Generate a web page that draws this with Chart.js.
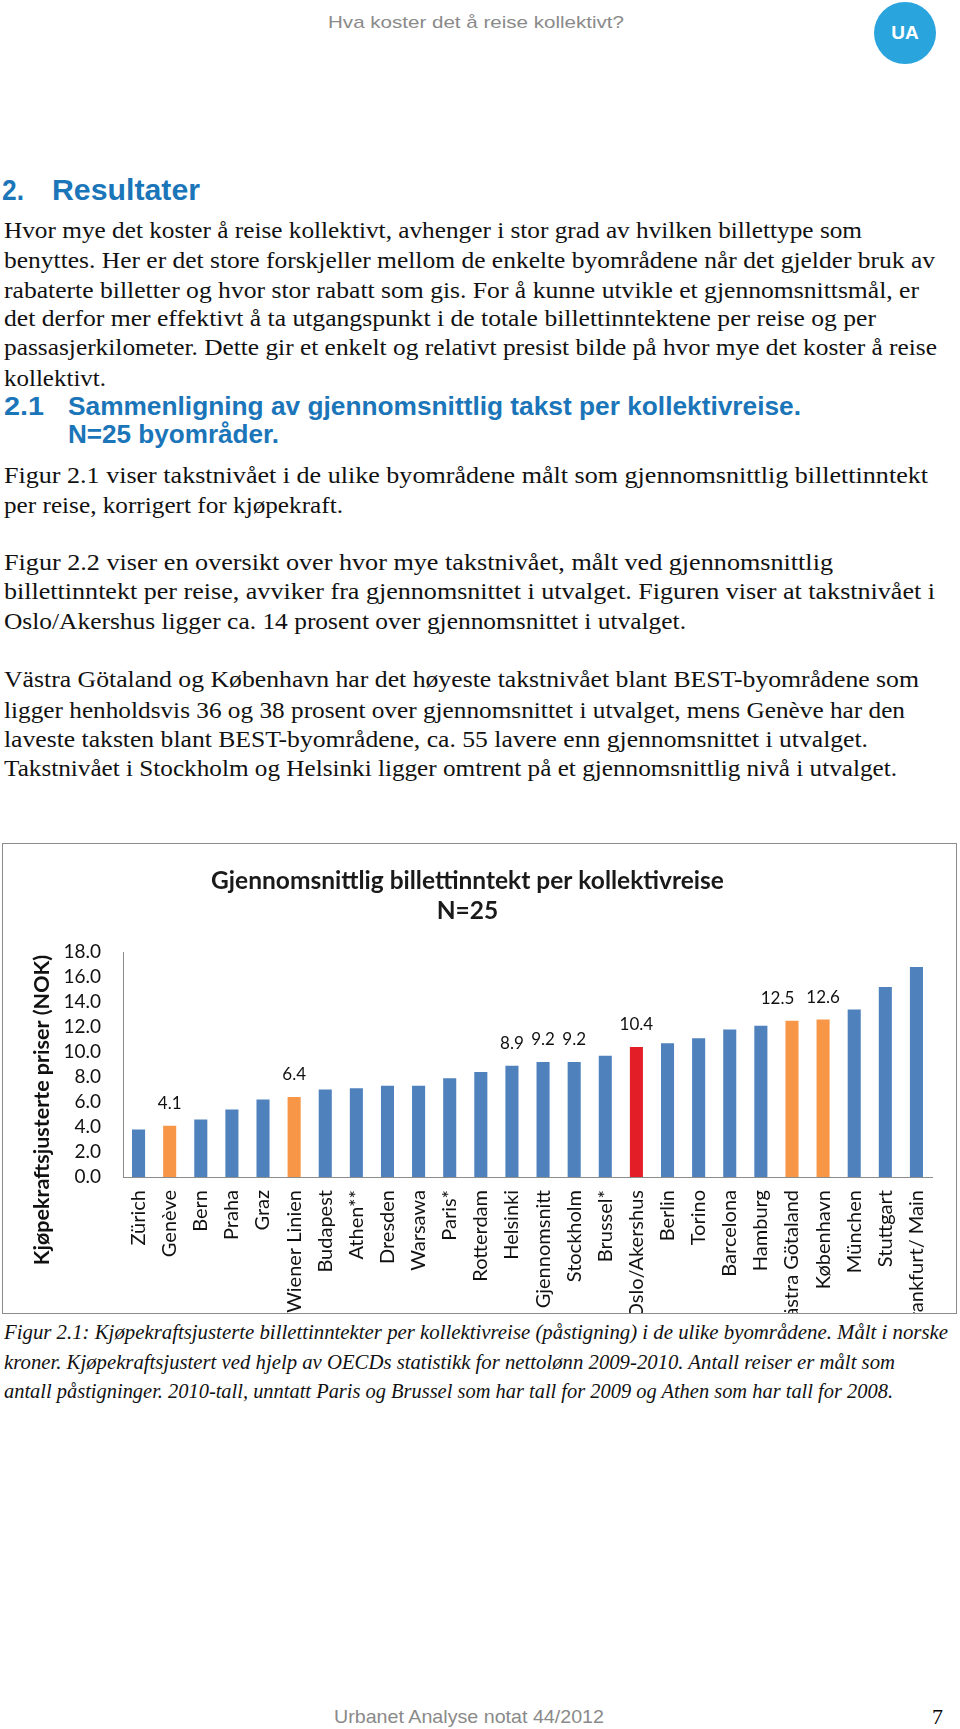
<!DOCTYPE html>
<html lang="no">
<head>
<meta charset="utf-8">
<title>Hva koster det å reise kollektivt?</title>
<script src="https://cdn.jsdelivr.net/npm/chart.js@4.4.1/dist/chart.umd.min.js"></script>
<style>
body { margin: 0; background: #fff; }
#page { position: relative; width: 960px; height: 1729px; overflow: hidden; }
.ln { position: absolute; white-space: nowrap; transform-origin: 0 0; }
.body { font-family: "Liberation Serif", serif; font-size: 23.5px; line-height: 23.5px; color: #111; }
.cap { font-family: "Liberation Serif", serif; font-style: italic; font-size: 21px; line-height: 21px; color: #111; }
.h { font-family: "Liberation Sans", Arial, sans-serif; font-weight: bold; color: #1b75b9; }
.gray { font-family: "Liberation Sans Narrow", "Liberation Sans", Arial, sans-serif; color: #8a8a8a; }
#ua { position: absolute; left: 874px; top: 2px; width: 62px; height: 62px; border-radius: 50%;
      background: #29a4dd; color: #fff; font: bold 19px "Liberation Sans", Arial, sans-serif;
      display: flex; align-items: center; justify-content: center; }
#chartBox { position: absolute; left: 2px; top: 843px; width: 955px; height: 471px;
            border: 1px solid #8c8c8c; box-sizing: border-box; }
#chart { display: block; }
</style>
</head>
<body>
<div id="page">
  <div class="ln gray" style="left:328px;top:14px;font-size:17px;line-height:17px" data-w="296">Hva koster det å reise kollektivt?</div>
  <div id="ua">UA</div>

  <div class="ln h" style="left:2px;top:175px;font-size:30px;line-height:30px" data-w="22">2.</div>
  <div class="ln h" style="left:52px;top:175px;font-size:30px;line-height:30px" data-w="148">Resultater</div>

  <div class="ln body" style="left:4px;top:219px" data-w="858">Hvor mye det koster å reise kollektivt, avhenger i stor grad av hvilken billettype som</div>
  <div class="ln body" style="left:4px;top:249px" data-w="931">benyttes. Her er det store forskjeller mellom de enkelte byområdene når det gjelder bruk av</div>
  <div class="ln body" style="left:4px;top:279px" data-w="915">rabaterte billetter og hvor stor rabatt som gis. For å kunne utvikle et gjennomsnittsmål, er</div>
  <div class="ln body" style="left:4px;top:307px" data-w="872">det derfor mer effektivt å ta utgangspunkt i de totale billettinntektene per reise og per</div>
  <div class="ln body" style="left:4px;top:336px" data-w="933">passasjerkilometer. Dette gir et enkelt og relativt presist bilde på hvor mye det koster å reise</div>
  <div class="ln body" style="left:4px;top:367px" data-w="102">kollektivt.</div>

  <div class="ln h" style="left:4px;top:393px;font-size:26px;line-height:26px" data-w="40">2.1</div>
  <div class="ln h" style="left:68px;top:393px;font-size:26px;line-height:26px" data-w="733">Sammenligning av gjennomsnittlig takst per kollektivreise.</div>
  <div class="ln h" style="left:68px;top:421px;font-size:26px;line-height:26px" data-w="211">N=25 byområder.</div>

  <div class="ln body" style="left:4px;top:464px" data-w="924">Figur 2.1 viser takstnivået i de ulike byområdene målt som gjennomsnittlig billettinntekt</div>
  <div class="ln body" style="left:4px;top:494px" data-w="339">per reise, korrigert for kjøpekraft.</div>

  <div class="ln body" style="left:4px;top:551px" data-w="829">Figur 2.2 viser en oversikt over hvor mye takstnivået, målt ved gjennomsnittlig</div>
  <div class="ln body" style="left:4px;top:580px" data-w="931">billettinntekt per reise, avviker fra gjennomsnittet i utvalget. Figuren viser at takstnivået i</div>
  <div class="ln body" style="left:4px;top:610px" data-w="682">Oslo/Akershus ligger ca. 14 prosent over gjennomsnittet i utvalget.</div>

  <div class="ln body" style="left:4px;top:668px" data-w="915">Västra Götaland og København har det høyeste takstnivået blant BEST-byområdene som</div>
  <div class="ln body" style="left:4px;top:699px" data-w="901">ligger henholdsvis 36 og 38 prosent over gjennomsnittet i utvalget, mens Genève har den</div>
  <div class="ln body" style="left:4px;top:728px" data-w="864">laveste taksten blant BEST-byområdene, ca. 55 lavere enn gjennomsnittet i utvalget.</div>
  <div class="ln body" style="left:4px;top:757px" data-w="893">Takstnivået i Stockholm og Helsinki ligger omtrent på et gjennomsnittlig nivå i utvalget.</div>

  <div id="chartBox"><canvas id="chart" width="953" height="469"></canvas></div>

  <div class="ln cap" style="left:4px;top:1322px" data-w="944">Figur 2.1: Kjøpekraftsjusterte billettinntekter per kollektivreise (påstigning) i de ulike byområdene. Målt i norske</div>
  <div class="ln cap" style="left:4px;top:1352px" data-w="891">kroner. Kjøpekraftsjustert ved hjelp av OECDs statistikk for nettolønn 2009-2010. Antall reiser er målt som</div>
  <div class="ln cap" style="left:4px;top:1381px" data-w="889">antall påstigninger. 2010-tall, unntatt Paris og Brussel som har tall for 2009 og Athen som har tall for 2008.</div>

  <div class="ln gray" style="left:334px;top:1707px;font-size:19px;line-height:19px" data-w="270">Urbanet Analyse notat 44/2012</div>
  <div class="ln body" style="left:932px;top:1706px;font-size:22px;line-height:22px;color:#000">7</div>
</div>

<script>
// data
const cities = ["Zürich", "Genève", "Bern", "Praha", "Graz", "Wiener Linien", "Budapest", "Athen**",
  "Dresden", "Warsawa", "Paris*", "Rotterdam", "Helsinki", "Gjennomsnitt", "Stockholm", "Brussel*",
  "Oslo/Akershus", "Berlin", "Torino", "Barcelona", "Hamburg", "Västra Götaland", "København",
  "München", "Stuttgart", "Frankfurt/ Main"];
const values = [3.8, 4.1, 4.6, 5.4, 6.2, 6.4, 7.0, 7.1, 7.3, 7.3, 7.9, 8.4, 8.9, 9.2, 9.2, 9.7,
  10.4, 10.7, 11.1, 11.8, 12.1, 12.5, 12.6, 13.4, 15.2, 16.8];
const bestCities = ["Genève", "Wiener Linien", "Västra Götaland", "København"];
const homeCity = "Oslo/Akershus";
const labelled = ["Genève", "Wiener Linien", "Helsinki", "Gjennomsnitt", "Stockholm",
  "Oslo/Akershus", "Västra Götaland", "København"];
const yTicks = [0, 2, 4, 6, 8, 10, 12, 14, 16, 18];
const chartTitle = ["Gjennomsnittlig billettinntekt per kollektivreise", "N=25"];
const yTitleText = "Kjøpekraftsjusterte priser (NOK)";

// stretch each text line to the width it has on the page
document.querySelectorAll(".ln[data-w]").forEach(el => {
  const w = el.getBoundingClientRect().width;
  el.style.transform = "scaleX(" + (Number(el.dataset.w) / w) + ")";
});

const barColors = cities.map(c => c === homeCity ? "#e31e26" : bestCities.includes(c) ? "#f79646" : "#4f81bd");

// value labels above the highlighted bars, nudged left when two would collide
const valueLabels = {
  id: "valueLabels",
  afterDatasetsDraw(chart) {
    const ctx = chart.ctx;
    const meta = chart.getDatasetMeta(0);
    ctx.save();
    ctx.font = "17px Lato";
    ctx.fillStyle = "#111";
    ctx.textAlign = "center";
    ctx.textBaseline = "middle";
    const items = [];
    meta.data.forEach((bar, i) => {
      if (!labelled.includes(cities[i])) return;
      const text = values[i].toFixed(1);
      items.push({ x: bar.x, y: bar.y - 22, w: ctx.measureText(text).width, text });
    });
    for (let k = items.length - 2; k >= 0; k--) {
      const a = items[k], b = items[k + 1];
      const gap = (b.x - b.w / 2) - (a.x + a.w / 2);
      if (gap < 4) a.x -= 12 - gap;
    }
    items.forEach(it => ctx.fillText(it.text, it.x, it.y));
    ctx.restore();
  }
};

const yTitle = {
  id: "yTitle",
  afterDraw(chart) {
    const ctx = chart.ctx;
    ctx.save();
    ctx.translate(39, chart.chartArea.bottom - 67);
    ctx.rotate(-Math.PI / 2);
    ctx.font = "bold 21.5px Lato";
    ctx.fillStyle = "#111";
    ctx.textAlign = "center";
    ctx.textBaseline = "middle";
    ctx.fillText(yTitleText, 0, 0);
    ctx.restore();
  }
};

let ctx = document.getElementById("chart").getContext("2d");
new Chart(ctx, {
  type: "bar",
  data: {
    labels: cities,
    datasets: [{
      data: values,
      backgroundColor: barColors,
      borderWidth: 0,
      barPercentage: 0.42,
      categoryPercentage: 1.0,
    }],
  },
  options: {
    responsive: false,
    animation: false,
    devicePixelRatio: 1,
    layout: { padding: { top: 12, right: 24, bottom: 0, left: 0 } },
    plugins: {
      legend: { display: false },
      tooltip: { enabled: false },
      title: {
        display: true,
        text: chartTitle,
        color: "#1a1a1a",
        font: { family: "Lato", size: 24.5, weight: "bold", lineHeight: 30 / 24.5 },
        padding: { top: 10, bottom: 26 },
      },
    },
    scales: {
      x: {
        grid: { display: false, drawTicks: false },
        border: { display: true, color: "#8c8c8c", width: 1 },
        ticks: {
          autoSkip: false, maxRotation: 90, minRotation: 90, padding: 13,
          color: "#111", font: { family: "Lato", size: 20 },
        },
        afterFit(scale) { scale.height = 136; },
      },
      y: {
        min: 0,
        max: 18,
        grid: { display: false, drawTicks: false },
        border: { display: true, color: "#8c8c8c", width: 1 },
        afterBuildTicks(scale) { scale.ticks = yTicks.map(v => ({ value: v })); },
        ticks: {
          autoSkip: false, padding: 22, color: "#111", font: { family: "Lato", size: 19 },
          callback: v => v.toFixed(1),
        },
        afterFit(scale) { scale.width = 120; },
      },
    },
  },
  plugins: [valueLabels, yTitle],
});
</script>
</body>
</html>
